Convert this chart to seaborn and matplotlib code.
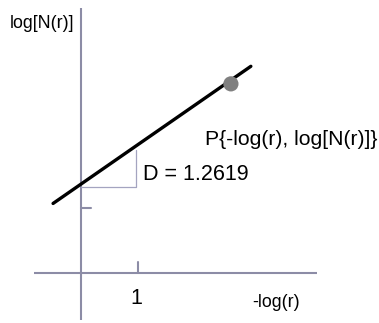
"""
Diagrama de la dimensión fractal: recta log[N(r)] frente a -log(r).
"""

import matplotlib.pyplot as plt
import pandas as pd
import seaborn as sns

# ============================================================================
# DATOS
# ============================================================================

# recta de ajuste (dos extremos)
line_x = [-0.49, 2.98]
line_y = [1.07, 3.18]

# punto P{-log(r), log[N(r)]}
point_x = [2.63]
point_y = [2.91]

# triángulo de pendiente
slope_x = [0.0, 0.97, 0.97]
slope_y = [1.33, 1.33, 1.89]

# extensión de los ejes y marcas
x_axis_range = [-0.82, 4.14]
y_axis_range = [-0.72, 4.08]
x_tick = 1
y_tick = 1

label_y = "log[N(r)]"
label_x = "-log(r)"
label_point = "P{-log(r), log[N(r)]}"
label_slope = "D = 1.2619"

# ============================================================================
# FIGURA
# ============================================================================

sns.set_style("white")
plt.rcParams["font.family"] = ["Liberation Sans", "DejaVu Sans"]
plt.rcParams["text.color"] = "black"

fig = plt.figure(figsize=(3.79, 3.23), dpi=100)
ax = fig.add_axes([0, 0, 1, 1])
ax.set_xlim(-1.421, 5.228)
ax.set_ylim(-0.769, 4.2)
ax.axis("off")

axis_color = "#8c8ca6"

# ejes
ax.plot(x_axis_range, [0, 0], color=axis_color, lw=1.5, solid_capstyle="butt")
ax.plot([0, 0], y_axis_range, color=axis_color, lw=1.5, solid_capstyle="butt")
ax.plot([x_tick, x_tick], [0, 0.17], color=axis_color, lw=1.5)
ax.plot([0, 0.175], [y_tick, y_tick], color=axis_color, lw=1.5)

# triángulo de pendiente
ax.plot(slope_x, slope_y, color="#a4a4c0", lw=0.9)

# recta
df_line = pd.DataFrame({"x": line_x, "y": line_y})
sns.lineplot(data=df_line, x="x", y="y", ax=ax, color="black", lw=2.4,
             sort=False, legend=False)

# punto
df_point = pd.DataFrame({"x": point_x, "y": point_y})
sns.scatterplot(data=df_point, x="x", y="y", ax=ax, color="#808080",
                s=120, edgecolor="none", zorder=5, legend=False)

# textos
ax.text(-0.684, 3.846, label_y, fontsize=12.8, ha="center", va="center")
ax.text(3.42, -0.46, label_x, fontsize=12.8, ha="center", va="center")
ax.text(x_tick - 0.03, -0.385, str(x_tick), fontsize=15.5, ha="center", va="center")
ax.text(1.09, 1.51, label_slope, fontsize=15.5, ha="left", va="center")
ax.text(3.69, 2.05, label_point, fontsize=15.2, ha="center", va="center")

fig.savefig("out.png", dpi=100)
plt.close()
